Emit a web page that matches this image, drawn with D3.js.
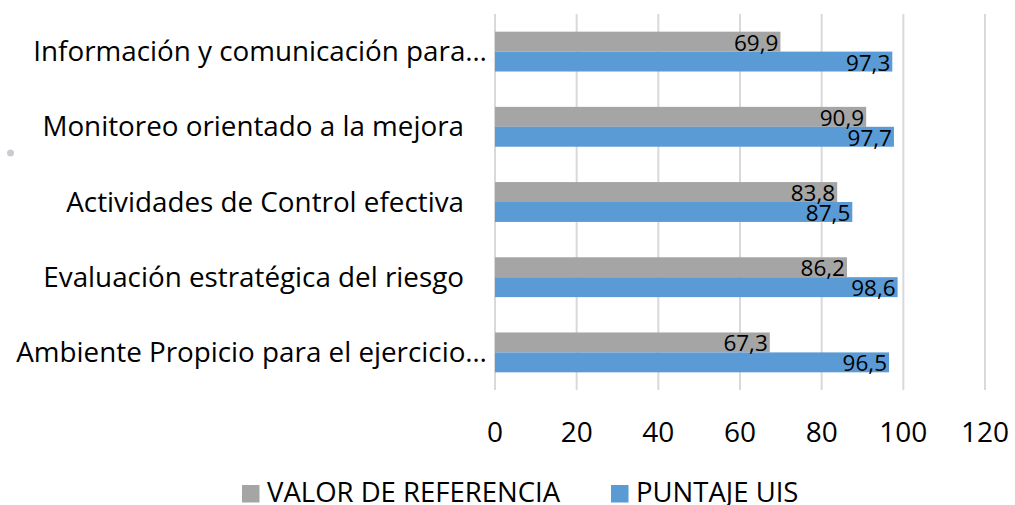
<!DOCTYPE html>
<html>
<head>
<meta charset="utf-8">
<script src="https://cdn.jsdelivr.net/npm/d3@7"></script>
<style>
  html, body { margin: 0; padding: 0; background: #fff; }
  svg { display: block; }
  text { font-family: "Open Sans", "Noto Sans", sans-serif; fill: #000; }
</style>
</head>
<body>
<svg id="chart" width="1015" height="505"></svg>
<script>
const categories = [
  "Información y comunicación para…",
  "Monitoreo orientado a la mejora",
  "Actividades de Control efectiva",
  "Evaluación estratégica del riesgo",
  "Ambiente Propicio para el ejercicio…"
];
const seriesNames = ["VALOR DE REFERENCIA", "PUNTAJE UIS"];
const valorReferencia = [69.9, 90.9, 83.8, 86.2, 67.3];
const puntajeUIS = [97.3, 97.7, 87.5, 98.6, 96.5];
const xTicks = [0, 20, 40, 60, 80, 100, 120];
const colors = ["#A5A5A5", "#5B9BD5"];

const seriesValues = [valorReferencia, puntajeUIS];
const svg = d3.select("#chart");

const plot = { left: 495, right: 985, top: 14, bottom: 390 };

const x = d3.scaleLinear().domain([0, 120]).range([plot.left, plot.right]);
const y = d3.scaleBand().domain(categories).range([plot.top, plot.bottom])
  .paddingInner(0.47).paddingOuter(0.235);
const ySub = d3.scaleBand().domain([0, 1]).range([0, y.bandwidth()]);

// gridlines
svg.append("g").selectAll("line").data(xTicks).join("line")
  .attr("x1", d => x(d)).attr("x2", d => x(d))
  .attr("y1", plot.top).attr("y2", plot.bottom)
  .attr("stroke", "#D9D9D9").attr("stroke-width", 2);

// bars
const groups = svg.append("g").selectAll("g").data(categories).join("g")
  .attr("transform", d => `translate(0,${y(d)})`);

groups.each(function(cat, i) {
  const g = d3.select(this);
  seriesValues.forEach((vals, s) => {
    g.append("rect")
      .attr("x", x(0))
      .attr("y", ySub(s))
      .attr("width", x(vals[i]) - x(0))
      .attr("height", ySub.bandwidth())
      .attr("fill", colors[s]);
  });
  seriesValues.forEach((vals, s) => {
    g.append("text")
      .attr("x", x(vals[i]) - 2)
      .attr("y", ySub(s) + ySub.bandwidth() - 1)
      .attr("text-anchor", "end")
      .attr("font-size", 22.5)
      .text(d3.format(".1f")(vals[i]).replace(".", ","));
  });
});

// category labels
svg.append("g").selectAll("text").data(categories).join("text")
  .attr("x", d => d.endsWith("…") ? 487 : 464)
  .attr("y", d => y(d) + y.bandwidth() / 2 + 9.5)
  .attr("text-anchor", "end")
  .attr("font-size", 27.8)
  .text(d => d);

// x tick labels
svg.append("g").selectAll("text").data(xTicks).join("text")
  .attr("x", d => x(d))
  .attr("y", 442)
  .attr("text-anchor", "middle")
  .attr("font-size", 28)
  .text(d => d);

// decorative dot
svg.append("circle").attr("cx", 10.5).attr("cy", 153).attr("r", 3.5).attr("fill", "#C9CDD2");

// legend
const legendX = [242, 611];
const lg = svg.append("g").selectAll("g").data(seriesNames).join("g")
  .attr("transform", (d, i) => `translate(${legendX[i]},485)`);
lg.append("rect").attr("width", 17.5).attr("height", 17.5).attr("fill", (d, i) => colors[i]);
lg.append("text").attr("x", 25).attr("y", 16.5).attr("font-size", 27.5).text(d => d);
</script>
</body>
</html>
